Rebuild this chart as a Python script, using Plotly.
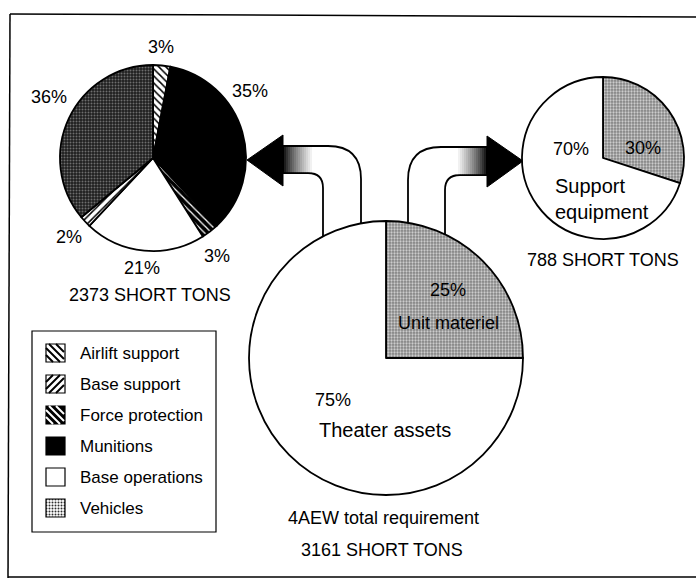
import plotly.graph_objects as go

# ---------------- data ----------------
left_labels = ["Airlift support", "Munitions", "Force protection",
               "Base operations", "Base support", "Vehicles"]
left_values = [3, 35, 3, 21, 2, 36]
left_total = 2373

right_labels = ["Other", "Support equipment"]
right_values = [30, 70]
right_total = 788

big_labels = ["Unit materiel", "Theater assets"]
big_values = [25, 75]
big_total = 3161

legend_order = ["Airlift support", "Base support", "Force protection",
                "Munitions", "Base operations", "Vehicles"]

# ---------------- styles ----------------
W, H = 696, 579
OFF = 0  # page body margin removed below, figure sits at (0, 0)
FONT = "Liberation Sans, Arial, Helvetica, sans-serif"

style = {
    "Airlift support":  dict(color="white", shape="\\", bg="white", fg="black", size=5, sol=0.3, hatch="\\"),
    "Base support":     dict(color="white", shape="/", bg="white", fg="black", size=5, sol=0.3, hatch="/"),
    "Force protection": dict(color="black", shape="\\", bg="black", fg="white", size=5, sol=0.25, hatch="\\"),
    "Munitions":        dict(color="black", shape="", bg="black", fg="black", size=5, sol=0.3, hatch=""),
    "Base operations":  dict(color="white", shape="", bg="white", fg="white", size=5, sol=0.3, hatch=""),
    "Vehicles":         dict(color="#2e2e2e", shape=".", bg="#1e1e1e", fg="#6e6e6e", size=3, sol=0.35, hatch=""),
}
light_stipple = dict(color="#a0a0a0", shape=".", bg="#828282", fg="#cccccc", size=3, sol=0.45)
white = dict(color="white", shape="", bg="white", fg="white", size=5, sol=0.3)


def marker_for(styles):
    return dict(
        colors=[s["color"] for s in styles],
        line=dict(color="black", width=1.8),
        pattern=dict(
            shape=[s["shape"] for s in styles],
            bgcolor=[s["bg"] for s in styles],
            fgcolor=[s["fg"] for s in styles],
            size=[s["size"] for s in styles],
            solidity=[s["sol"] for s in styles],
            fillmode="replace",
        ),
    )


def dom(cx, cy, r):
    cx -= OFF
    cy -= OFF
    return dict(x=[(cx - r) / W, (cx + r) / W], y=[1 - (cy + r) / H, 1 - (cy - r) / H])


fig = go.Figure()

fig.add_trace(go.Pie(
    labels=left_labels, values=left_values, sort=False, direction="clockwise",
    rotation=0, textinfo="none", hoverinfo="none",
    marker=marker_for([style[l] for l in left_labels]),
    domain=dom(153, 158, 93), showlegend=False))

fig.add_trace(go.Pie(
    labels=right_labels, values=right_values, sort=False, direction="clockwise",
    rotation=0, textinfo="none", hoverinfo="none",
    marker=marker_for([light_stipple, white]),
    domain=dom(603, 158, 81), showlegend=False))

fig.add_trace(go.Pie(
    labels=big_labels, values=big_values, sort=False, direction="clockwise",
    rotation=0, textinfo="none", hoverinfo="none",
    marker=marker_for([light_stipple, white]),
    domain=dom(386, 358, 137), showlegend=False))

# legend swatches as small bars on the pixel axes
row_y0, row_dy = 353, 31
sw_x0, sw_w, sw_h = 46, 19, 18
leg_y = [row_y0 + row_dy * i for i in range(len(legend_order))]
fig.add_trace(go.Bar(
    orientation="h", y=leg_y, x=[sw_w] * len(legend_order), base=[sw_x0] * len(legend_order),
    width=sw_h, showlegend=False, hoverinfo="skip",
    marker=dict(
        color=[style[l]["color"] for l in legend_order],
        line=dict(color="black", width=1.2),
        pattern=dict(
            shape=["." if l == "Vehicles" else "" for l in legend_order],
            bgcolor=[style[l]["bg"] for l in legend_order],
            fgcolor=[style[l]["fg"] for l in legend_order],
            size=[style[l]["size"] for l in legend_order],
            solidity=[style[l]["sol"] for l in legend_order],
            fillmode="replace",
        ),
    ),
))

shapes = []
# frame
for (x0, y0, x1, y1) in [(10, 14, 700, 17), (10, 14, 8, 578), (8, 577, 700, 577)]:
    shapes.append(dict(type="line", xref="x", yref="y", x0=x0, y0=y0, x1=x1, y1=y1,
                       line=dict(color="black", width=1.5)))
# legend box
shapes.append(dict(type="rect", xref="x", yref="y", x0=32, y0=331, x1=216, y1=532,
                   line=dict(color="black", width=1.2), fillcolor="rgba(0,0,0,0)"))

# hatch lines in legend swatches
for yc, lab in zip(leg_y, legend_order):
    h = style[lab]["hatch"]
    if not h:
        continue
    col = style[lab]["fg"]
    top = yc - sw_h / 2
    s = sw_h
    for d in (-11, -4, 3, 10) if h == "\\" else (7, 14, 21, 28):
        if h == "\\":
            u0, u1 = max(0, -d), min(s, s - d)
            if u1 <= u0:
                continue
            xa, ya, xb, yb = sw_x0 + u0 + d, top + u0, sw_x0 + u1 + d, top + u1
        else:
            u0, u1 = max(0, d - s), min(s, d)
            if u1 <= u0:
                continue
            xa, ya, xb, yb = sw_x0 + u0, top + d - u0, sw_x0 + u1, top + d - u1
        shapes.append(dict(type="line", xref="x", yref="y", x0=xa, y0=ya, x1=xb, y1=yb,
                           line=dict(color=col, width=2)))

# arrows (bodies below pies)
left_body = ("M 323,260 L 323,188 Q 323,173 308,173 L 282,173 L 282,146 "
             "L 328,146 Q 361,146 361,179 L 361,260 Z")
right_body = ("M 408,260 L 408,180 Q 408,147 441,147 L 488,147 L 488,175 "
              "L 460,175 Q 445,175 445,190 L 445,260 Z")
for p in (left_body, right_body):
    shapes.append(dict(type="path", xref="x", yref="y", path=p, layer="below",
                       fillcolor="white", line=dict(color="black", width=1.8)))

# gradient strips near heads
n = 16
for i in range(n):
    t = i / (n - 1)
    g = int(255 * min(1.0, t ** 0.8))
    col = f"rgb({g},{g},{g})"
    shapes.append(dict(type="rect", xref="x", yref="y", layer="below",
                       x0=282 + 2 * i, x1=282 + 2 * i + 2.2, y0=147, y1=172.2,
                       fillcolor=col, line=dict(width=0)))
    shapes.append(dict(type="rect", xref="x", yref="y", layer="below",
                       x0=488 - 2 * i - 2.2, x1=488 - 2 * i, y0=148, y1=174.2,
                       fillcolor=col, line=dict(width=0)))

# arrow heads
shapes.append(dict(type="path", xref="x", yref="y", layer="below",
                   path="M 283,135 L 247,160 L 283,186 Z",
                   fillcolor="black", line=dict(color="black", width=1)))
shapes.append(dict(type="path", xref="x", yref="y", layer="below",
                   path="M 487,136 L 523,161 L 487,187 Z",
                   fillcolor="black", line=dict(color="black", width=1)))

ann = []


def txt(x, y, s, size=18, xanchor="center", align="center"):
    ann.append(dict(x=x, y=y, xref="x", yref="y", text=s, showarrow=False,
                    xanchor=xanchor, yanchor="middle", align=align,
                    font=dict(family=FONT, size=size, color="black")))


# left pie labels (order: airlift, munitions, force prot., base ops, base support, vehicles)
left_pos = [(161, 47), (250, 91), (217, 256), (142, 268), (69, 237), (49, 97)]
for (x, y), v in zip(left_pos, left_values):
    txt(x, y, f"{v}%")
txt(150, 295, f"{left_total} SHORT TONS")

# right pie
txt(643, 148, f"{right_values[0]}%")
txt(571, 149, f"{right_values[1]}%")
txt(553, 199, "Support<br>equipment", size=20, xanchor="left", align="left")
txt(603, 260, f"{right_total} SHORT TONS")

# big pie
txt(448, 290, f"{big_values[0]}%")
txt(448, 323, big_labels[0])
txt(333, 400, f"{big_values[1]}%")
txt(385, 430, big_labels[1], size=20)
txt(383, 518, "4AEW total requirement")
txt(382, 550, f"{big_total} SHORT TONS")

# legend texts
for y, lab in zip(leg_y, legend_order):
    txt(78, y, lab, size=17, xanchor="left", align="left")

fig.update_layout(
    width=W, height=H, margin=dict(l=0, r=0, t=0, b=0),
    paper_bgcolor="white", plot_bgcolor="rgba(0,0,0,0)",
    showlegend=False, hovermode=False,
    xaxis=dict(range=[OFF, OFF + W], visible=False, domain=[0, 1], fixedrange=True),
    yaxis=dict(range=[OFF + H, OFF], visible=False, domain=[0, 1], fixedrange=True),
    shapes=shapes, annotations=ann,
)

fig.write_html(
    "out.html",
    config={"displayModeBar": False},
    post_script="document.body.style.margin='0';document.body.style.overflow='hidden';",
)
